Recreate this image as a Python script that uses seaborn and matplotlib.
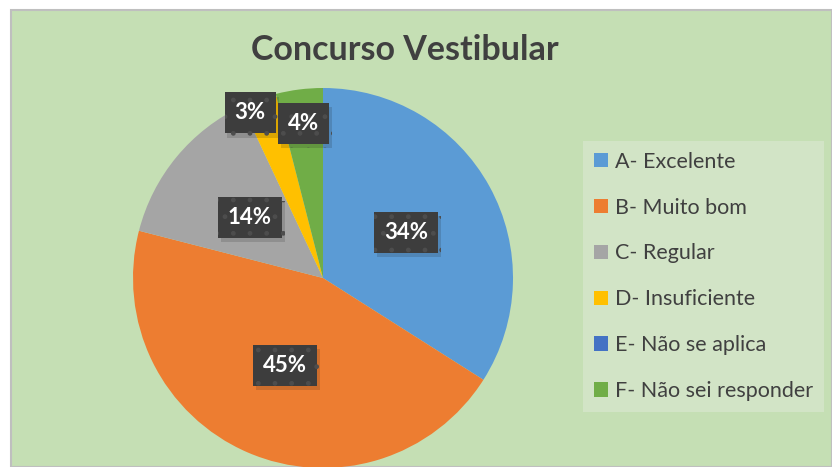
import matplotlib
matplotlib.use("Agg")
import numpy as np
import matplotlib.pyplot as plt
import matplotlib.patheffects as pe
from matplotlib.patches import Rectangle
import seaborn as sns

# data
categories = ["A- Excelente", "B- Muito bom", "C- Regular", "D- Insuficiente",
              "E- Não se aplica", "F- Não sei responder"]
percent = [34, 45, 14, 3, 0, 4]
colors = ["#5B9BD5", "#ED7D31", "#A5A5A5", "#FFC000", "#4472C4", "#70AD47"]

# label placement (fraction of radius, extra angle in degrees)
label_dist = [0.5, 0.5, 0.5, 0.95, 0.5, 0.82]
label_turn = [0, 0, 0, 4, 0, 0]

sns.set_style("white")
plt.rcParams['font.family'] = ['Lato', 'DejaVu Sans']

fig = plt.figure(figsize=(8.32, 4.67), dpi=100)
fig.patch.set_facecolor("white")

# green chart area with grey border
fig.patches.append(Rectangle((11 / 832, 0), 1 - 11 / 832, 1 - 10 / 467,
                             transform=fig.transFigure, facecolor="#C5DFB4",
                             edgecolor="#BFBFBF", linewidth=1.5, zorder=-5))

ax = fig.add_axes([(323 - 190) / 832, (467 - 278 - 190) / 467, 380 / 832, 380 / 467])
ax.set_zorder(2)
ax.set_facecolor("none")
wedges, _ = ax.pie(percent, colors=colors, startangle=90, counterclock=False,
                   radius=1, wedgeprops=dict(linewidth=0))
ax.set_xlim(-1, 1)
ax.set_ylim(-1, 1)
ax.axis("off")

plt.rcParams['hatch.linewidth'] = 1.0
for w, p, d, t in zip(wedges, percent, label_dist, label_turn):
    if p == 0:
        continue
    mid = np.deg2rad((w.theta1 + w.theta2) / 2 + t)
    txt = ax.text(d * np.cos(mid), d * np.sin(mid), f"{p}%", ha="center", va="center",
                  fontsize=16, fontweight="bold", color="white",
                  bbox=dict(boxstyle="square,pad=0.45", facecolor="#3D3D3D",
                            edgecolor="#4D4D4D", hatch=".", linewidth=0))
    txt.get_bbox_patch().set_path_effects(
        [pe.SimplePatchShadow(offset=(2, -3), alpha=0.15), pe.Normal()])

fig.text(405 / 832, 1 - 50 / 467, "Concurso Vestibular", ha="center", va="center",
         fontsize=24.5, fontweight="bold", color="#404040")

leg = fig.legend(wedges, categories, loc="upper left",
                 bbox_to_anchor=(583 / 832, 1 - 141 / 467), frameon=True,
                 fontsize=15.5, labelcolor="#404040", handlelength=0.65,
                 handleheight=0.65, handletextpad=0.35, labelspacing=1.2,
                 borderpad=0.5, borderaxespad=0, fancybox=False)
leg.get_frame().set_facecolor("#D6E6CB")
leg.get_frame().set_edgecolor("none")
leg.set_zorder(3)

fig.savefig("out.png", dpi=100)
